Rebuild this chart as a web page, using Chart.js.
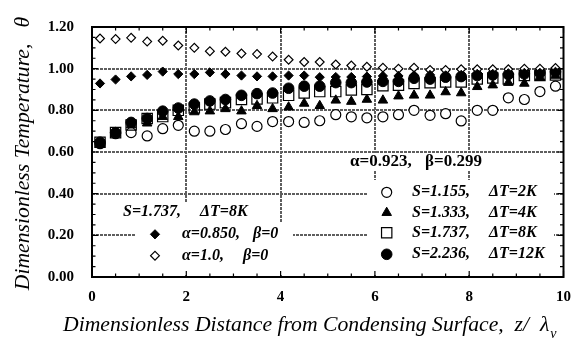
<!DOCTYPE html>
<html>
<head>
<meta charset="utf-8">
<script src="https://cdn.jsdelivr.net/npm/chart.js@4.4.1/dist/chart.umd.min.js"></script>
<style>
  html, body { margin: 0; padding: 0; background: #fff; }
  #wrap { width: 574px; height: 341px; }
</style>
</head>
<body>
<div id="wrap"><canvas id="chart" width="574" height="341"></canvas></div>
<script>
// measured positions, z / lambda_v
var distance = [0.17, 0.5, 0.83, 1.17, 1.5, 1.83, 2.17, 2.5, 2.83, 3.17, 3.5, 3.83, 4.17, 4.5, 4.83,
                5.17, 5.5, 5.83, 6.17, 6.5, 6.83, 7.17, 7.5, 7.83, 8.17, 8.5, 8.83, 9.17, 9.5, 9.83];

// alpha=0.923, beta=0.299
var thetaS1155 = [0.640, 0.688, 0.693, 0.677, 0.712, 0.728, 0.700, 0.700, 0.708, 0.736, 0.723, 0.746, 0.746, 0.742, 0.750,
                  0.779, 0.769, 0.764, 0.769, 0.779, 0.800, 0.776, 0.784, 0.749, 0.800, 0.800, 0.860, 0.852, 0.890, 0.916];
var thetaS1333 = [0.640, 0.690, 0.730, 0.738, 0.769, 0.769, 0.792, 0.796, 0.807, 0.796, 0.822, 0.807, 0.815, 0.833, 0.822,
                  0.848, 0.842, 0.852, 0.848, 0.868, 0.872, 0.872, 0.888, 0.883, 0.913, 0.921, 0.933, 0.929, 0.959, 0.967];
var thetaS1737 = [0.647, 0.693, 0.730, 0.761, 0.770, 0.800, 0.811, 0.830, 0.837, 0.852, 0.855, 0.860, 0.872, 0.883, 0.890,
                  0.890, 0.898, 0.900, 0.918, 0.921, 0.929, 0.933, 0.936, 0.936, 0.951, 0.955, 0.951, 0.967, 0.967, 0.970];
var thetaS2236 = [0.647, 0.693, 0.742, 0.761, 0.796, 0.811, 0.830, 0.845, 0.852, 0.872, 0.880, 0.883, 0.906, 0.916, 0.916,
                  0.933, 0.933, 0.936, 0.939, 0.939, 0.954, 0.950, 0.959, 0.962, 0.967, 0.970, 0.972, 0.975, 0.980, 0.985];

// S=1.737, dT=8K
var thetaA0850 = [0.929, 0.948, 0.963, 0.970, 0.986, 0.974, 0.974, 0.982, 0.974, 0.967, 0.963, 0.963, 0.967, 0.967, 0.959,
                  0.960, 0.960, 0.962, 0.965, 0.965, 0.968, 0.970, 0.968, 0.970, 0.975, 0.975, 0.978, 0.980, 0.980, 0.985];
var thetaA10 = [1.145, 1.142, 1.148, 1.130, 1.134, 1.111, 1.100, 1.084, 1.081, 1.073, 1.070, 1.058, 1.043, 1.032, 1.032,
                1.020, 1.015, 1.009, 1.005, 1.000, 1.005, 0.994, 0.994, 0.997, 0.997, 0.997, 0.997, 1.000, 1.000, 1.003];

var xTickValues = [0, 2, 4, 6, 8, 10];
var xTickLabels = ['0', '2', '4', '6', '8', '10'];
var yTickValues = [0, 0.2, 0.4, 0.6, 0.8, 1.0, 1.2];
var yTickLabels = ['0.00', '0.20', '0.40', '0.60', '0.80', '1.00', '1.20'];

var SERIF = '"Liberation Serif", "Times New Roman", serif';

function pts(ys) {
    return ys.map(function (y, i) { return { x: distance[i], y: y }; });
}

// datasets listed top-most first (Chart.js draws index 0 last)
var datasets = [
    { label: 'a0850', data: pts(thetaA0850), pointStyle: 'rectRot', pointRadius: 4.6,
      backgroundColor: '#000', borderColor: '#000', borderWidth: 1 },
    { label: 'a10', data: pts(thetaA10), pointStyle: 'rectRot', pointRadius: 4.4,
      backgroundColor: '#fff', borderColor: '#000', borderWidth: 1.2 },
    { label: 'S2236', data: pts(thetaS2236), pointStyle: 'circle', pointRadius: 5.3,
      backgroundColor: '#000', borderColor: '#000', borderWidth: 1 },
    { label: 'S1737', data: pts(thetaS1737), pointStyle: 'rect', pointRadius: 7.3,
      backgroundColor: 'rgba(255,255,255,0)', borderColor: '#000', borderWidth: 1.2 },
    { label: 'S1333', data: pts(thetaS1333), pointStyle: 'triangle', pointRadius: 5.5,
      backgroundColor: '#000', borderColor: '#000', borderWidth: 1 },
    { label: 'S1155', data: pts(thetaS1155), pointStyle: 'circle', pointRadius: 5,
      backgroundColor: '#fff', borderColor: '#000', borderWidth: 1.2 }
];

function marker(ctx, ds, x, y, r) {
    ctx.fillStyle = ds.backgroundColor;
    ctx.strokeStyle = ds.borderColor;
    ctx.lineWidth = ds.borderWidth;
    Chart.helpers.drawPoint(ctx, { pointStyle: ds.pointStyle, radius: r, rotation: 0, borderWidth: ds.borderWidth }, x, y);
}

function whiteBox(ctx, x, y, w, h) {
    ctx.fillStyle = '#fff';
    ctx.fillRect(x, y, w, h);
}

function text(ctx, s, x, y, font) {
    ctx.font = font;
    ctx.fillStyle = '#000';
    ctx.textAlign = 'left';
    ctx.textBaseline = 'middle';
    ctx.fillText(s, x, y);
}

var decor = {
    id: 'decor',
    afterDatasetsDraw: function (chart) {
        var ctx = chart.ctx;
        var ds = chart.data.datasets;
        var lf = 'italic bold 16px ' + SERIF;
        ctx.save();
        // left legend
        whiteBox(ctx, 118, 202, 140, 20);
        whiteBox(ctx, 135, 222, 158, 53);
        text(ctx, 'S=1.737,', 123, 212, lf);
        text(ctx, '\u0394T=8K', 200, 212, lf);
        marker(ctx, ds[0], 155, 234.3, 4.6);
        text(ctx, '\u03b1=0.850,', 182, 234.3, lf);
        text(ctx, '\u03b2=0', 253, 234.3, lf);
        marker(ctx, ds[1], 155, 255.7, 4.4);
        text(ctx, '\u03b1=1.0,', 182, 255.7, lf);
        text(ctx, '\u03b2=0', 243, 255.7, lf);

        // right legend
        whiteBox(ctx, 345, 153, 142, 18);
        text(ctx, '\u03b1=0.923,', 350, 162, 'bold 17px ' + SERIF);
        text(ctx, '\u03b2=0.299', 425, 162, 'bold 17px ' + SERIF);
        whiteBox(ctx, 367, 180, 187, 95);
        var rows = [
            [ds[5], 5, 192.3, 'S=1.155,', '\u0394T=2K'],
            [ds[4], 5.5, 212.7, 'S=1.333,', '\u0394T=4K'],
            [ds[3], 7.3, 232.7, 'S=1.737,', '\u0394T=8K'],
            [ds[2], 5.3, 254.3, 'S=2.236,', '\u0394T=12K']
        ];
        rows.forEach(function (r) {
            marker(ctx, r[0], 386.7, r[2], r[1]);
            text(ctx, r[3], 412, r[2], lf);
            text(ctx, r[4], 489, r[2], lf);
        });
        ctx.restore();
    },
    afterDraw: function (chart) {
        var ctx = chart.ctx, a = chart.chartArea;
        var xs = chart.scales.x, ys = chart.scales.y;
        ctx.save();
        // inward ticks on all four sides
        ctx.strokeStyle = '#000';
        ctx.lineWidth = 1.2;
        ctx.beginPath();
        var v, p, len;
        for (v = 0; v <= 20; v++) {
            p = xs.getPixelForValue(v * 0.5);
            len = (v % 4 === 0) ? 6 : 3.5;
            ctx.moveTo(p, a.bottom); ctx.lineTo(p, a.bottom - len);
            ctx.moveTo(p, a.top); ctx.lineTo(p, a.top + len);
        }
        for (v = 0; v <= 24; v++) {
            p = ys.getPixelForValue(v * 0.05);
            len = (v % 4 === 0) ? 6 : 3.5;
            ctx.moveTo(a.left, p); ctx.lineTo(a.left + len, p);
            ctx.moveTo(a.right, p); ctx.lineTo(a.right - len, p);
        }
        ctx.stroke();
        // frame
        ctx.lineWidth = 2;
        ctx.strokeRect(a.left, a.top, a.right - a.left, a.bottom - a.top);

        // axis titles
        ctx.fillStyle = '#000';
        ctx.font = 'italic 21.7px ' + SERIF;
        ctx.textAlign = 'left';
        ctx.textBaseline = 'alphabetic';
        var xt = 'Dimensionless Distance from Condensing Surface,  z/  \u03bb';
        ctx.fillText(xt, 63, 331);
        var w = ctx.measureText(xt).width;
        ctx.font = 'italic 14px ' + SERIF;
        ctx.fillText('v', 63 + w + 1, 338);

        ctx.translate(23, 153.5);
        ctx.rotate(-Math.PI / 2);
        ctx.font = 'italic 21.7px ' + SERIF;
        ctx.textAlign = 'center';
        ctx.textBaseline = 'middle';
        ctx.fillText('Dimensionless Temperature,   \u03b8', 0, 0);
        ctx.restore();
    }
};

function gridColor(ends) {
    return function (c) {
        var v = c.tick ? c.tick.value : null;
        return (v === ends[0] || v === ends[1]) ? 'rgba(0,0,0,0)' : '#5e5e5e';
    };
}

new Chart(document.getElementById('chart'), {
    type: 'scatter',
    data: { datasets: datasets },
    plugins: [decor],
    options: {
        responsive: false,
        animation: false,
        devicePixelRatio: 1,
        layout: { padding: { left: 0, top: 14, right: 1, bottom: 0 } },
        plugins: { legend: { display: false }, tooltip: { enabled: false } },
        scales: {
            x: {
                type: 'linear', min: 0, max: 10,
                afterBuildTicks: function (s) { s.ticks = xTickValues.map(function (v) { return { value: v }; }); },
                afterFit: function (s) { s.height = 64; },
                ticks: {
                    padding: 3, color: '#000', maxRotation: 0,
                    font: { family: SERIF, size: 15, weight: 'bold' },
                    callback: function (v, i) { return xTickLabels[i]; }
                },
                // invisible outer ticks only push the labels down
                grid: { color: gridColor([0, 10]), lineWidth: 2, drawTicks: true, tickLength: 8, tickColor: 'rgba(0,0,0,0)' },
                border: { display: false, dash: [3, 1] }
            },
            y: {
                type: 'linear', min: 0, max: 1.2,
                afterBuildTicks: function (s) { s.ticks = yTickValues.map(function (v) { return { value: v }; }); },
                afterFit: function (s) { s.width = 92; },
                ticks: {
                    padding: 18, color: '#000',
                    font: { family: SERIF, size: 15, weight: 'bold' },
                    callback: function (v, i) { return yTickLabels[i]; }
                },
                grid: { color: gridColor([0, 1.2]), lineWidth: 2, drawTicks: false },
                border: { display: false, dash: [3, 1] }
            }
        }
    }
});
</script>
</body>
</html>
